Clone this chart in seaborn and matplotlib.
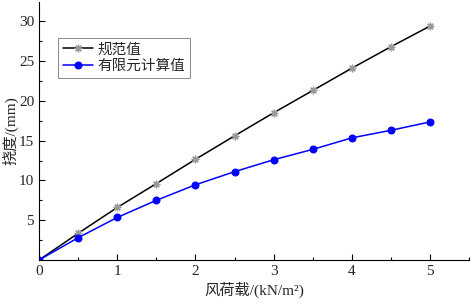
import matplotlib
matplotlib.use("Agg")
import matplotlib.pyplot as plt
import seaborn as sns
import pandas as pd
from matplotlib.ticker import MultipleLocator

load = [0, 0.5, 1, 1.5, 2, 2.5, 3, 3.5, 4, 4.5, 5]
code_vals = [0, 3.35, 6.6, 9.6, 12.65, 15.6, 18.5, 21.3, 24.1, 26.8, 29.4]
fem_vals = [0, 2.8, 5.35, 7.5, 9.45, 11.1, 12.6, 13.9, 15.35, 16.3, 17.35]
series_names = ["规范值", "有限元计算值"]

sns.set_style("white")
plt.rcParams['font.family'] = ['Liberation Serif', 'Noto Sans CJK SC']

fig = plt.figure(figsize=(4.72, 3.07), dpi=100)
ax = fig.add_axes([0.0826, 0.153, 0.9114, 0.840])

df = pd.DataFrame({"x": load * 2,
                   "y": code_vals + fem_vals,
                   "s": [series_names[0]] * len(load) + [series_names[1]] * len(load)})

sns.lineplot(data=df[df.s == series_names[0]], x="x", y="y", ax=ax, color="black",
             lw=1.1, marker=(8, 2, 0), markersize=5.5, markeredgecolor="#9a9a9a",
             markeredgewidth=0.9, label=series_names[0])
sns.lineplot(data=df[df.s == series_names[1]], x="x", y="y", ax=ax, color="#0000ff",
             lw=1.1, marker="o", markersize=5, markeredgecolor="#0000ff",
             label=series_names[1])

ax.set_xlim(0, 5.5)
ax.set_ylim(0, 32.4)
ax.xaxis.set_minor_locator(MultipleLocator(0.5))
ax.yaxis.set_minor_locator(MultipleLocator(2.5))
ax.set_yticks([5, 10, 15, 20, 25, 30])
ax.set_xticks([0, 1, 2, 3, 4, 5])
ax.tick_params(which='both', direction='in', bottom=True, left=True, labelsize=11, color='black')
ax.tick_params(which='major', length=4, width=0.8)
ax.tick_params(which='minor', length=2.5, width=0.8)
for side in ['top', 'right']:
    ax.spines[side].set_visible(False)
for side in ['left', 'bottom']:
    ax.spines[side].set_color('black')
    ax.spines[side].set_linewidth(0.8)

ax.set_xlabel("风荷载/(kN/m²)", fontsize=11, labelpad=3)
ax.set_ylabel("挠度/(mm)", fontsize=11, labelpad=0)

leg = ax.legend(loc='upper left', bbox_to_anchor=(0.045, 0.862), fontsize=10.5,
                frameon=True, fancybox=False, edgecolor='#555555', borderpad=0.35,
                handlelength=2.0, handletextpad=0.3, labelspacing=0.25, borderaxespad=0)
leg.get_frame().set_linewidth(0.6)

fig.savefig("out.png", dpi=100)
